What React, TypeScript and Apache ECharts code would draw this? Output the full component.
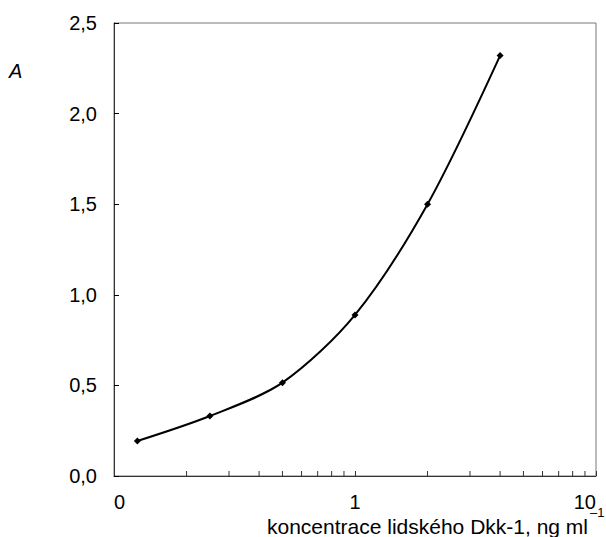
import React, { useEffect, useRef } from "react";
import * as echarts from "echarts";

const concentrations = [0.125, 0.25, 0.5, 1, 2, 4];
const absorbance = [0.193, 0.331, 0.515, 0.889, 1.5, 2.32];
const minorTickValues = [0.2, 0.3, 0.4, 0.5, 0.6, 0.7, 0.8, 0.9, 2, 3, 4, 5, 6, 7, 8, 9];
const xTickLabels: Record<string, string> = { "0.1": "0", "1": "1", "10": "10" };
const yAxisLabel = "A";
const xAxisTitle = "koncentrace lidského Dkk-1, ng ml";
const xAxisTitleSup = "–1";

const FONT = "'Liberation Sans', Arial, sans-serif";

export default function App() {
  const ref = useRef<HTMLDivElement>(null);
  useEffect(() => {
    if (!ref.current) return;
    const chart = echarts.init(ref.current, undefined, { renderer: "svg" });
    chart.setOption({
      animation: false,
      backgroundColor: "#ffffff",
      grid: {
        left: 114,
        right: 10,
        top: 23,
        bottom: 61,
        show: true,
        borderColor: "#777",
        borderWidth: 1,
      },
      xAxis: {
        type: "log",
        logBase: 10,
        min: 0.1,
        max: 10,
        axisLine: { show: true, lineStyle: { color: "#333", width: 1 } },
        axisTick: { show: true, inside: true, length: 5, lineStyle: { color: "#333" } },
        splitLine: { show: false },
        axisLabel: {
          color: "#000",
          fontFamily: FONT,
          fontSize: 20,
          margin: 16,
          alignMinLabel: "left",
          alignMaxLabel: "right",
          formatter: (v: number) => {
            const key = String(Math.round(v * 10) / 10);
            return xTickLabels[key] ?? "";
          },
        },
      },
      yAxis: {
        type: "value",
        min: 0,
        max: 2.5,
        interval: 0.5,
        axisLine: { show: true, lineStyle: { color: "#333", width: 1 } },
        axisTick: { show: true, inside: true, length: 5, lineStyle: { color: "#000" } },
        splitLine: { show: false },
        axisLabel: {
          color: "#000",
          fontFamily: FONT,
          fontSize: 20,
          margin: 17,
          formatter: (v: number) => v.toFixed(1).replace(".", ","),
        },
      },
      graphic: [
        {
          type: "text",
          left: 9,
          top: 61,
          style: { text: yAxisLabel, font: `italic 20px ${FONT}`, fill: "#000" },
        },
        {
          type: "text",
          x: 588,
          y: 526,
          style: {
            text: xAxisTitle,
            font: `21px ${FONT}`,
            fill: "#000",
            align: "right",
            verticalAlign: "middle",
          },
        },
        {
          type: "text",
          x: 590,
          y: 512,
          style: {
            text: xAxisTitleSup,
            font: `13px ${FONT}`,
            fill: "#000",
            align: "left",
            verticalAlign: "middle",
          },
        },
      ],
      series: [
        {
          type: "custom",
          silent: true,
          renderItem: (params: any, api: any) => {
            const p = api.coord([api.value(0), 0]);
            return {
              type: "line",
              shape: { x1: p[0], y1: p[1], x2: p[0], y2: p[1] - 5 },
              style: { stroke: "#333", lineWidth: 1 },
            };
          },
          data: minorTickValues.map((v) => [v]),
          z: 1,
        },
        {
          type: "line",
          data: concentrations.map((c, i) => [c, absorbance[i]]),
          smooth: 0.3,
          symbol: "diamond",
          symbolSize: 7,
          lineStyle: { color: "#000", width: 2 },
          itemStyle: { color: "#000" },
          z: 3,
        },
      ],
    });
    return () => chart.dispose();
  }, []);
  return (
    <div
      ref={ref}
      style={{ position: "absolute", left: 0, top: 0, width: 606, height: 537 }}
    />
  );
}
